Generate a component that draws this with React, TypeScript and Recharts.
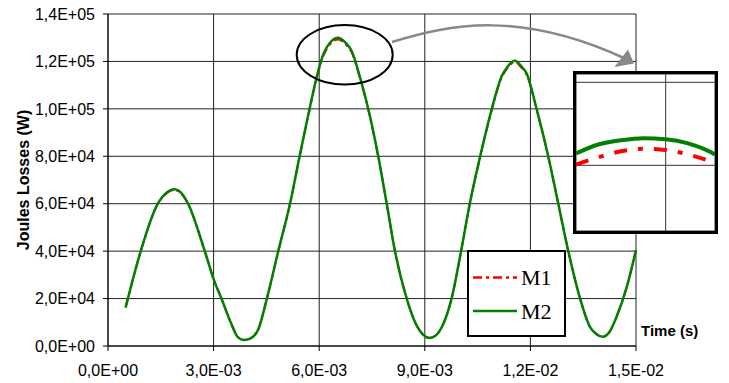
import { CartesianGrid, Legend, Line, LineChart, XAxis, YAxis } from "recharts"

// time in ms, losses in W
const timeMs = [
  0.5, 0.93, 1.42, 1.66, 1.89, 2.13, 2.27, 2.75, 3.01, 3.22, 3.5, 3.68, 3.86, 4.05, 4.28, 4.51, 4.84, 5.17, 5.44,
  5.72, 5.95, 6.12, 6.31, 6.54, 6.78, 6.92, 7.16, 7.4, 7.68, 7.92, 8.15, 8.49, 8.77, 8.95, 9.13, 9.3, 9.48, 9.76,
  10.03, 10.28, 10.57, 10.9, 11.18, 11.35, 11.56, 11.75, 11.89, 12.18, 12.51, 12.79, 13.08, 13.41, 13.69, 13.87,
  14.05, 14.25, 14.45, 14.74, 15.0,
]
const m1 = [
  16200, 39900, 60000, 64300, 65800, 63400, 60000, 39900, 27800, 20100, 9500, 3900, 2500, 3200, 7400, 19700, 40000,
  59800, 79500, 99200, 114200, 122400, 127200, 129200, 126700, 123900, 112800, 99300, 79600, 59800, 40100, 19800,
  8600, 4800, 3400, 4300, 7900, 19900, 39800, 60000, 79500, 99400, 113100, 117200, 119700, 117300, 114500, 99500,
  79600, 60000, 39700, 20000, 8100, 5100, 3900, 6000, 12400, 24900, 40400,
]
const m2 = [
  16200, 40000, 60200, 64600, 66100, 63700, 60200, 40000, 27800, 20100, 9500, 3900, 2500, 3200, 7400, 19800, 40200,
  60000, 79800, 99600, 114700, 123100, 128000, 130000, 127400, 124500, 113300, 99600, 79800, 59900, 40200, 19800,
  8600, 4800, 3400, 4300, 7900, 20000, 40000, 60200, 79800, 99800, 113600, 117800, 120300, 117800, 115000, 99800,
  79800, 60200, 39800, 20100, 8100, 5100, 3900, 6000, 12400, 25000, 40500,
]

const xTicks = [0, 0.003, 0.006, 0.009, 0.012, 0.015]
const yTicks = [0, 20000, 40000, 60000, 80000, 100000, 120000, 140000]

// zoomed view of the second peak (inset)
const zoomTime = [0.0062, 0.0063, 0.0064, 0.0065, 0.0066, 0.0067, 0.0068, 0.00682]
const zoomM1 = [129019, 129193, 129337, 129400, 129369, 129260, 129092, 129043]
const zoomM2 = [129284, 129501, 129602, 129653, 129629, 129530, 129320, 129260]
const zoomXTicks = [0.0066]
const zoomYTicks = [129000, 131000]

const series = [
  { key: "m1", name: "M1", color: "#ff0000", dash: "9 4 3 4" },
  { key: "m2", name: "M2", color: "#008000", dash: undefined },
]

const data = timeMs.map((t, i) => ({ t: t / 1000, m1: m1[i], m2: m2[i] }))
const zoomData = zoomTime.map((t, i) => ({ t, m1: zoomM1[i], m2: zoomM2[i] }))

const SANS = "'Liberation Sans', Arial, sans-serif"
const SERIF = "'Liberation Serif', 'Times New Roman', serif"

function sci(v: number) {
  if (v === 0) return "0,0E+00"
  const [m, e] = v.toExponential(1).split("e")
  const n = parseInt(e, 10)
  return `${m.replace(".", ",")}E${n < 0 ? "-" : "+"}${String(Math.abs(n)).padStart(2, "0")}`
}

function LegendBox() {
  return (
    <svg width={99} height={87}>
      <rect x={1} y={1} width={97} height={85} fill="#fff" stroke="#000" strokeWidth={2} />
      {series.map((s, i) => (
        <g key={s.key}>
          <line
            x1={6}
            x2={50}
            y1={27.5 + i * 33.5}
            y2={27.5 + i * 33.5}
            stroke={s.color}
            strokeWidth={2.5}
            strokeDasharray={s.dash}
          />
          <text x={54} y={35 + i * 34} fontFamily={SERIF} fontSize={22} fill="#000">
            {s.name}
          </text>
        </g>
      ))}
    </svg>
  )
}

export default function App() {
  return (
    <div style={{ position: "absolute", left: 0, top: 0, width: 729, height: 383, background: "#fff" }}>
      <LineChart width={729} height={383} data={data} margin={{ top: 14, right: 93, bottom: 0, left: 0 }}>
        <CartesianGrid stroke="#222" strokeWidth={1} />
        <XAxis
          dataKey="t"
          type="number"
          domain={[0, 0.015]}
          ticks={xTicks}
          tickFormatter={sci}
          height={37}
          stroke="#000"
          tickSize={5}
          tickMargin={14}
          tick={{ fill: "#000", fontSize: 16, fontFamily: SANS }}
        />
        <YAxis
          type="number"
          domain={[0, 140000]}
          ticks={yTicks}
          tickFormatter={sci}
          width={108}
          stroke="#000"
          tickSize={5}
          tickMargin={8}
          tick={{ fill: "#000", fontSize: 16, fontFamily: SANS }}
        />
        {series.map((s) => (
          <Line
            key={s.key}
            type="monotone"
            dataKey={s.key}
            name={s.name}
            stroke={s.color}
            strokeWidth={s.key === "m2" ? 2.5 : 2}
            strokeDasharray={s.dash}
            dot={false}
            isAnimationActive={false}
          />
        ))}
        <Legend
          layout="vertical"
          align="center"
          verticalAlign="middle"
          content={() => <LegendBox />}
          wrapperStyle={{ left: 467, top: 250, width: 99, height: 87 }}
        />
      </LineChart>

      {/* inset: zoom on the second peak */}
      <div
        style={{
          position: "absolute",
          left: 573,
          top: 71,
          width: 139,
          height: 157,
          border: "3px solid #000",
          background: "#fff",
        }}
      >
        <LineChart width={139} height={157} data={zoomData} margin={{ top: 0, right: 0, bottom: 0, left: 0 }}>
          <CartesianGrid stroke="#333" strokeWidth={1} />
          <XAxis dataKey="t" type="number" domain={[0.0062, 0.00682]} ticks={zoomXTicks} hide />
          <YAxis type="number" domain={[127417, 131200]} ticks={zoomYTicks} hide width={0} />
          <Line
            type="monotone"
            dataKey="m1"
            stroke="#ff0000"
            strokeWidth={4}
            strokeDasharray="13 11 5 11"
            dot={false}
            isAnimationActive={false}
          />
          <Line type="monotone" dataKey="m2" stroke="#008000" strokeWidth={4} dot={false} isAnimationActive={false} />
        </LineChart>
      </div>

      <svg width={729} height={383} style={{ position: "absolute", left: 0, top: 0, pointerEvents: "none" }}>
        <ellipse cx={344.7} cy={54.8} rx={48} ry={29.8} fill="none" stroke="#000" strokeWidth={2} />
        <path d="M392,42 C450,24 520,10 626,59" fill="none" stroke="#888" strokeWidth={2.5} />
        <polygon points="634,63.5 628,49.5 614.5,67" fill="#888" />
        <text x={641} y={336} fontFamily={SANS} fontWeight="bold" fontSize={15} fill="#000">
          Time (s)
        </text>
        <text
          transform="translate(28.5,180) rotate(-90)"
          textAnchor="middle"
          fontFamily={SANS}
          fontWeight="bold"
          fontSize={16}
          fill="#000"
        >
          Joules Losses (W)
        </text>
      </svg>
    </div>
  )
}
